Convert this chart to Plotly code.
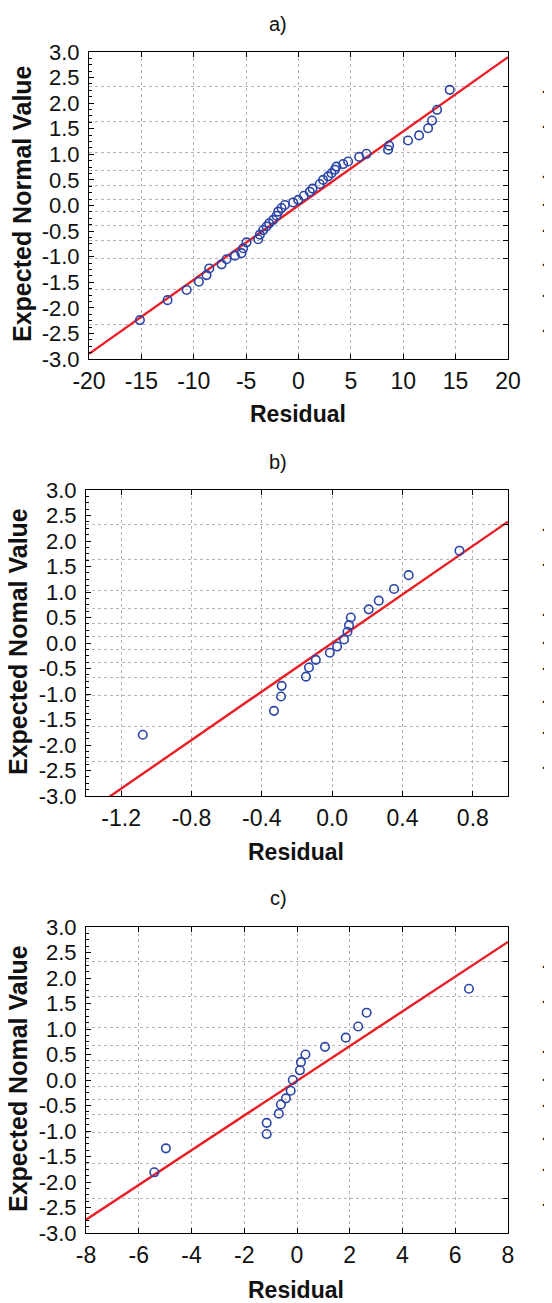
from statistics import NormalDist

import plotly.graph_objects as go

PAGE_W, PAGE_H = 552, 1303
OFF = 8  # default <body> margin of the page that write_html produces
W, H = PAGE_W - OFF, PAGE_H - OFF
FONT = "Arial, 'Liberation Sans', sans-serif"

# ---- data ------------------------------------------------------------------
a_residual = [-15.14, -12.5, -10.68, -9.51, -8.78, -8.52, -7.34, -6.87, -6.07,
              -5.44, -5.28, -4.96, -3.85, -3.69, -3.37, -3.05, -2.8, -2.42,
              -2.1, -1.94, -1.62, -1.3, -0.51, -0.03, 0.51, 1.08, 1.34, 2.03,
              2.35, 2.83, 3.15, 3.47, 3.62, 4.26, 4.74, 5.79, 6.49, 8.55, 8.65,
              10.46, 11.51, 12.37, 12.75, 13.23, 14.44]
a_expected = [-2.24, -1.85, -1.65, -1.49, -1.36, -1.23, -1.15, -1.05, -0.98,
              -0.93, -0.835, -0.72, -0.66, -0.57, -0.48, -0.41, -0.35, -0.28,
              -0.2, -0.12, -0.05, 0.01, 0.06, 0.11, 0.19, 0.27, 0.33, 0.42,
              0.5, 0.57, 0.63, 0.7, 0.76, 0.81, 0.86, 0.95, 1.01, 1.09, 1.17,
              1.27, 1.37, 1.51, 1.66, 1.87, 2.26]
a_fit = (0.0, 0.145)  # intercept, slope

b_residual = [-1.077, -0.331, -0.291, -0.287, -0.149, -0.132, -0.093, -0.013,
              0.028, 0.068, 0.087, 0.096, 0.106, 0.208, 0.265, 0.352, 0.435,
              0.724]
b_expected = [-1.80, -1.33, -1.05, -0.84, -0.66, -0.48, -0.33, -0.19, -0.07,
              0.07, 0.22, 0.35, 0.50, 0.66, 0.83, 1.06, 1.33, 1.81]
b_fit = (0.0, 2.38)

c_residual = [-5.41, -4.97, -1.15, -1.15, -0.69, -0.61, -0.42, -0.24, -0.16,
              0.11, 0.15, 0.32, 1.06, 1.85, 2.32, 2.64, 6.52]
c_expected = [-1.81, -1.34, -1.06, -0.84, -0.66, -0.48, -0.36, -0.21, 0.0,
              0.19, 0.35, 0.50, 0.65, 0.83, 1.05, 1.32, 1.79]
c_fit = (-0.016, 0.3404)

panel_titles = ["a)", "b)", "c)"]
y_titles = ["Expected Normal Value", "Expected Nomal Value", "Expected Nomal Value"]
x_title = "Residual"
x_ranges = [(-20, 20), (-1.4, 1.0), (-8, 8)]
x_ticks = [
    [-20, -15, -10, -5, 0, 5, 10, 15, 20],
    [-1.2, -0.8, -0.4, 0.0, 0.4, 0.8],
    [-8, -6, -4, -2, 0, 2, 4, 6, 8],
]
x_ticktext = [
    ["-20", "-15", "-10", "-5", "0", "5", "10", "15", "20"],
    ["-1.2", "-0.8", "-0.4", "0.0", "0.4", "0.8"],
    ["-8", "-6", "-4", "-2", "0", "2", "4", "6", "8"],
]
y_ticks = [-3.0, -2.5, -2.0, -1.5, -1.0, -0.5, 0.0, 0.5, 1.0, 1.5, 2.0, 2.5, 3.0]
grid_probs = [.01, .05, .15, .25, .35, .45, .55, .65, .75, .85, .95, .99]
label_probs = [.01, .05, .15, .35, .55, .75, .95, .99]

# ---- layout geometry (pixels in the 552x1303 page) --------------------------
# plot box: left, right, top, bottom
boxes = [(89, 508, 52, 359), (86, 508, 490, 796), (86, 508, 927, 1233)]
title_pos = [(278, 24), (278, 462), (278, 898)]
xtitle_pos = [(298, 414), (296, 852), (296, 1290)]
ytitle_pos = [(22, 204), (18, 642), (18, 1079)]

RED = "#ec1c24"
BLUE = "#2a44a8"
GRID = "#b4b4b4"


def px(x):
    return (x - OFF) / W


def py(y):
    return 1 - (y - OFF) / H


nd = NormalDist()
grid_z = [nd.inv_cdf(p) for p in grid_probs]
grid_text = [(f"{p:.2f}"[1:] if p in label_probs else "") for p in grid_probs]

series = [(a_residual, a_expected, a_fit),
          (b_residual, b_expected, b_fit),
          (c_residual, c_expected, c_fit)]

fig = go.Figure()
annotations = []

for i, (xs, ys, fit) in enumerate(series):
    n = i + 1
    xa = "x" if n == 1 else f"x{n}"
    ya = "y" if n == 1 else f"y{n}"
    ya_r = f"y{n + 3}"
    x0, x1 = x_ranges[i]
    b0, b1 = fit

    fig.add_trace(go.Scatter(
        x=[x0, x1], y=[b0 + b1 * x0, b0 + b1 * x1], mode="lines",
        line=dict(color=RED, width=2.4), xaxis=xa, yaxis=ya,
        showlegend=False, hoverinfo="skip",
    ))
    fig.add_trace(go.Scatter(
        x=xs, y=ys, mode="markers", xaxis=xa, yaxis=ya, showlegend=False,
        marker=dict(symbol="circle-open", size=8.5, color=BLUE,
                    line=dict(color=BLUE, width=1.6)),
    ))
    # empty trace so the probability axis on the right is drawn
    fig.add_trace(go.Scatter(x=[], y=[], xaxis=xa, yaxis=ya_r, showlegend=False))

    left, right, top, bottom = boxes[i]

    fig.layout[f"xaxis{n if n > 1 else ''}"] = dict(
        domain=[px(left), px(right)], anchor=ya, range=[x0, x1],
        tickvals=x_ticks[i], ticktext=x_ticktext[i],
        ticks="inside", ticklen=5, tickcolor="black", mirror="ticks",
        showline=True, linecolor="black", linewidth=1,
        showgrid=True, gridcolor=GRID, griddash="dot", gridwidth=1,
        zeroline=False, tickfont=dict(size=23, color="#111", family=FONT),
        ticklabelstandoff=1, automargin=False, fixedrange=True,
    )
    fig.layout[f"yaxis{n if n > 1 else ''}"] = dict(
        domain=[py(bottom), py(top)], anchor=xa, range=[-3, 3],
        tickvals=y_ticks, ticktext=[f"{v:.1f}" for v in y_ticks],
        ticks="inside", ticklen=5, tickcolor="black",
        minor=dict(ticks="inside", ticklen=3, dtick=0.125, tickcolor="black",
                   showgrid=False),
        showline=True, linecolor="black", linewidth=1, showgrid=False,
        zeroline=False, tickfont=dict(size=22, color="#111", family=FONT),
        ticklabelstandoff=4, automargin=False, fixedrange=True,
    )
    fig.layout[f"yaxis{n + 3}"] = dict(
        overlaying=ya, anchor=xa, side="right", range=[-3, 3],
        tickvals=grid_z, ticktext=grid_text,
        ticks="inside", ticklen=5, tickcolor="black",
        showline=True, linecolor="black", linewidth=1,
        showgrid=True, gridcolor=GRID, griddash="dot", gridwidth=1,
        zeroline=False, tickfont=dict(size=20, color="#222", family=FONT),
        ticklabelstandoff=28, automargin=False, fixedrange=True,
    )

    tx, ty = title_pos[i]
    annotations.append(dict(
        text=panel_titles[i], x=px(tx), y=py(ty), xref="paper", yref="paper",
        xanchor="center", yanchor="middle", showarrow=False,
        font=dict(size=20, color="#111", family=FONT),
    ))
    rx, ry = xtitle_pos[i]
    annotations.append(dict(
        text=f"<b>{x_title}</b>", x=px(rx), y=py(ry), xref="paper",
        yref="paper", xanchor="center", yanchor="middle", showarrow=False,
        font=dict(size=23, color="#111", family=FONT),
    ))
    lx, ly = ytitle_pos[i]
    annotations.append(dict(
        text=f"<b>{y_titles[i]}</b>", x=px(lx), y=py(ly), xref="paper",
        yref="paper", xanchor="center", yanchor="middle", showarrow=False,
        textangle=-90, font=dict(size=25, color="#111", family=FONT),
    ))

fig.update_layout(
    width=W, height=H,
    margin=dict(l=0, r=0, t=0, b=0),
    paper_bgcolor="white", plot_bgcolor="white",
    font=dict(family=FONT, color="#111"),
    annotations=annotations,
    showlegend=False,
)

fig.write_html("out.html", config=dict(displayModeBar=False))
